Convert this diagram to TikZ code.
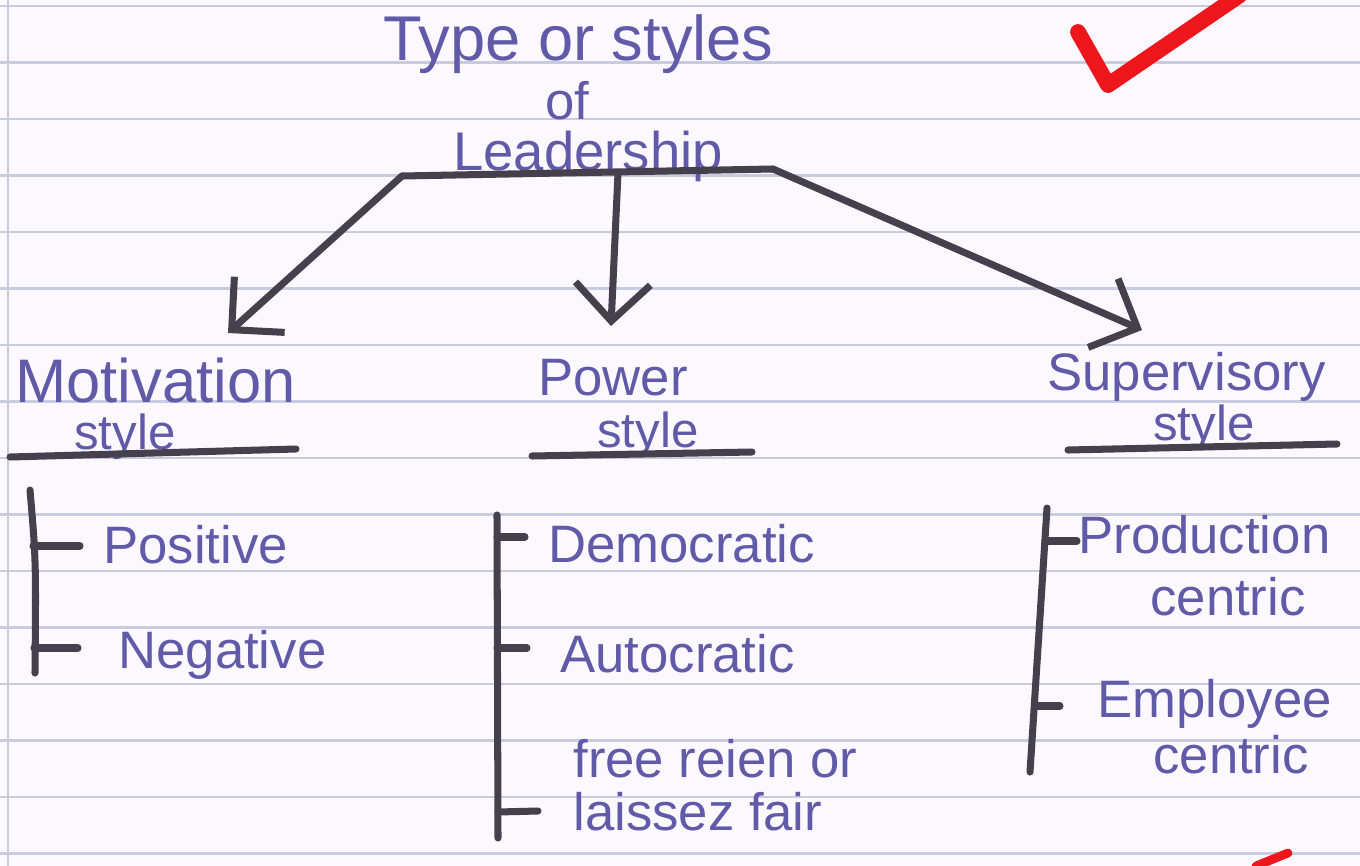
\documentclass[tikz,border=0pt]{standalone}
\usepackage{fontspec}
\setmainfont{Liberation Sans}
\usetikzlibrary{arrows.meta}
\definecolor{ink}{RGB}{96,90,168}
\definecolor{pen}{RGB}{70,64,76}
\definecolor{rulec}{RGB}{200,204,222}
\definecolor{paper}{RGB}{251,249,255}
\definecolor{redtick}{RGB}{236,22,28}
\begin{document}
\begin{tikzpicture}[x=0.02cm,y=-0.02cm,
  hand/.style={text=ink, inner sep=0pt, font=\fontsize{30}{34}\selectfont},
  stroke/.style={draw=pen, line width=4pt, line cap=round, line join=round},
  arr/.style={stroke, -{Straight Barb[length=0.75cm, width=1.5cm]}},
  ruling/.style={draw=rulec, line width=1.4pt}]
\useasboundingbox (0,0) rectangle (1360,866);
\fill[paper] (0,0) rectangle (1360,866);
% ruled paper
\foreach \k in {0,...,15} \draw[ruling] (0,6+56.5*\k) -- (1360,6+56.5*\k);
\draw[ruling] (8,0) -- (8,866);
% red check marks
\draw[redtick, line width=9pt, line cap=round, line join=round] (1078,32) -- (1108,85) -- (1240,-5);
\draw[redtick, line width=5pt, line cap=round] (1256,866) -- (1288,853);
% title
\node[hand, anchor=base west, font=\fontsize{36}{40}\selectfont] (t1) at (383,60) {Type or styles};
\node[hand, anchor=base] (t2) at (567,119) {of};
\node[hand, anchor=base west, font=\fontsize{31}{34}\selectfont] (t3) at (453,170) {Leadership};
\coordinate (barL) at (402,176);
\coordinate (barM) at (618,173);
\coordinate (barR) at (773,169);
\draw[stroke] (barL) -- (barR);
% arrow tips
\coordinate (tipL) at (228,333);
\coordinate (tipM) at (611,326);
\coordinate (tipR) at (1142,330);
\draw[arr] (barL) -- (tipL);
\draw[arr] (barM) -- (tipM);
\draw[arr] (barR) -- (tipR);
% category headings
\node[hand, anchor=base west, font=\fontsize{35}{38}\selectfont] (mot) at (15,402) {Motivation};
\node[hand, anchor=base west, font=\fontsize{28}{30}\selectfont] (mots) at (74,449) {style};
\node[hand, anchor=base west] (pow) at (538,395) {Power};
\node[hand, anchor=base west, font=\fontsize{28}{30}\selectfont] (pows) at (597,447) {style};
\node[hand, anchor=base west] (sup) at (1047,390) {Supervisory};
\node[hand, anchor=base west, font=\fontsize{28}{30}\selectfont] (sups) at (1153,440) {style};
% underlines
\coordinate (u1a) at (10,457); \coordinate (u1b) at (296,449);
\coordinate (u2a) at (532,456); \coordinate (u2b) at (752,452);
\coordinate (u3a) at (1068,450); \coordinate (u3b) at (1337,444);
\draw[stroke] (u1a) -- (u1b);
\draw[stroke] (u2a) -- (u2b);
\draw[stroke] (u3a) -- (u3b);
% motivation branch
\node[hand, anchor=base west] (pos) at (103,563) {Positive};
\node[hand, anchor=base west] (neg) at (118,668) {Negative};
\coordinate (b1t) at (30,490); \coordinate (b1b) at (35,673);
\coordinate (b1p) at (33,546); \coordinate (b1n) at (34,648);
\coordinate (b1pe) at (80,546); \coordinate (b1ne) at (78,648);
\draw[stroke] (b1t) .. controls (36,560) .. (b1b);
\draw[stroke] (b1p) -- (b1pe);
\draw[stroke] (b1n) -- (b1ne);
% power branch
\node[hand, anchor=base west] (dem) at (548,562) {Democratic};
\node[hand, anchor=base west] (aut) at (560,672) {Autocratic};
\node[hand, anchor=base west] (fre) at (573,777) {free reien or};
\node[hand, anchor=base west] (lai) at (573,830) {laissez fair};
\coordinate (b2t) at (497,515); \coordinate (b2b) at (498,838);
\coordinate (b2d) at (497,537); \coordinate (b2a) at (497,648); \coordinate (b2l) at (498,812);
\coordinate (b2de) at (525,537); \coordinate (b2ae) at (527,648); \coordinate (b2le) at (538,811);
\draw[stroke] (b2t) -- (b2b);
\draw[stroke] (b2d) -- (b2de);
\draw[stroke] (b2a) -- (b2ae);
\draw[stroke] (b2l) -- (b2le);
% supervisory branch
\node[hand, anchor=base west] (pro) at (1078,553) {Production};
\node[hand, anchor=base west] (pro2) at (1150,615) {centric};
\node[hand, anchor=base west] (emp) at (1097,717) {Employee};
\node[hand, anchor=base west] (emp2) at (1153,773) {centric};
\coordinate (b3t) at (1047,508); \coordinate (b3b) at (1030,772);
\coordinate (b3p) at (1045,541); \coordinate (b3e) at (1036,706);
\coordinate (b3pe) at (1077,541); \coordinate (b3ee) at (1060,706);
\draw[stroke] (b3t) -- (b3b);
\draw[stroke] (b3p) -- (b3pe);
\draw[stroke] (b3e) -- (b3ee);
\end{tikzpicture}
\end{document}
